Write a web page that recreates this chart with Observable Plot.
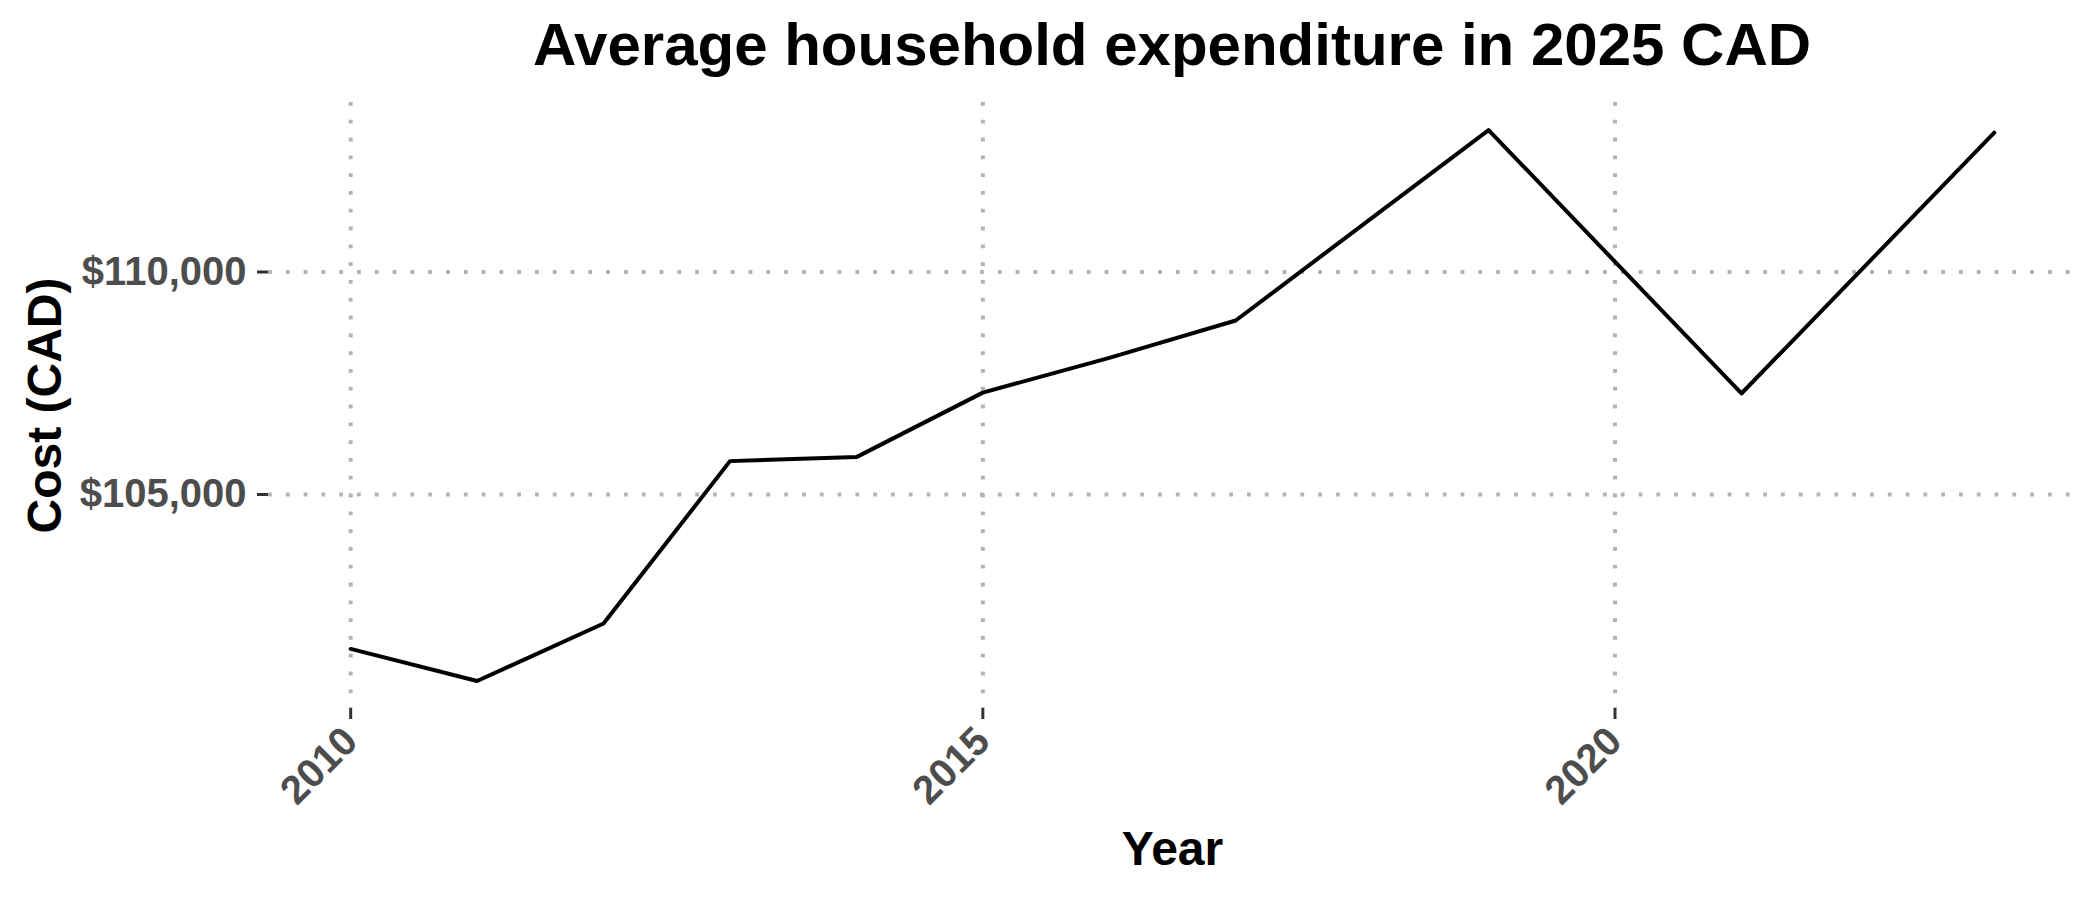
<!DOCTYPE html>
<html><head><meta charset="utf-8">
<script src="https://cdn.jsdelivr.net/npm/d3@7"></script>
<script src="https://cdn.jsdelivr.net/npm/@observablehq/plot@0.6"></script>
<style>
html,body{margin:0;padding:0;background:#fff;overflow:hidden;}
#title{box-sizing:border-box;width:2100px;height:90px;padding:10px 0 0 244px;text-align:center;font-family:"Liberation Sans",Arial,sans-serif;font-weight:bold;font-size:60px;line-height:70px;color:#000;white-space:nowrap;}
#chart svg [aria-label="x-axis tick"] path, #chart svg [aria-label="y-axis tick"] path, #chart svg g.tick line{stroke:#333;stroke-width:3px;}
</style></head><body>
<div id="title">Average household expenditure in 2025 CAD</div>
<div id="chart"></div>
<script>
const years = [2010, 2011, 2012, 2013, 2014, 2015, 2016, 2017, 2019, 2021, 2023];
const costs = [101530, 100810, 102100, 105750, 105840, 107290, 108070, 108910, 113190, 107270, 113130];
const xTicks = [2010, 2015, 2020];
const yTicks = [105000, 110000];
const xTitle = "Year";
const yTitle = "Cost (CAD)";

const data = years.map((y, i) => ({year: y, cost: costs[i]}));
const [x0, x1] = d3.extent(years);
const [y0, y1] = d3.extent(costs);
const xPad = (x1 - x0) * 0.05, yPad = (y1 - y0) * 0.05;
const grid = {stroke: "#b3b3b3", strokeWidth: 4, strokeDasharray: "3.8 14"};
const fmtY = d => "$" + d3.format(",")(d);

const chart = Plot.plot({
  width: 2100,
  height: 810,
  marginTop: 12,
  marginBottom: 192,
  marginLeft: 268,
  marginRight: 24,
  style: {fontFamily: "'Liberation Sans', Arial, sans-serif", fontSize: "40px", fontWeight: "bold", color: "#4d4d4d", background: "#fff"},
  x: {domain: [x0 - xPad, x1 + xPad], ticks: xTicks, tickFormat: d => String(d), tickSize: 11, tickPadding: 15, tickRotate: -45, label: null},
  y: {domain: [y0 - yPad, y1 + yPad], ticks: yTicks, tickFormat: fmtY, tickSize: 11, tickPadding: 11, label: null},
  marks: [
    Plot.ruleY(yTicks, grid),
    Plot.ruleX(xTicks, grid),
    Plot.line(data, {x: "year", y: "cost", stroke: "#000", strokeWidth: 4}),
    Plot.text([xTitle], {frameAnchor: "bottom", dy: 156, text: d => d, fontSize: 48, fontWeight: "bold", fill: "#000", lineAnchor: "bottom", textAnchor: "middle"}),
    Plot.text([yTitle], {frameAnchor: "left", dx: -208, rotate: -90, text: d => d, fontSize: 48, fontWeight: "bold", fill: "#000", lineAnchor: "bottom", textAnchor: "middle"})
  ]
});
document.getElementById("chart").appendChild(chart);
</script>
</body></html>
